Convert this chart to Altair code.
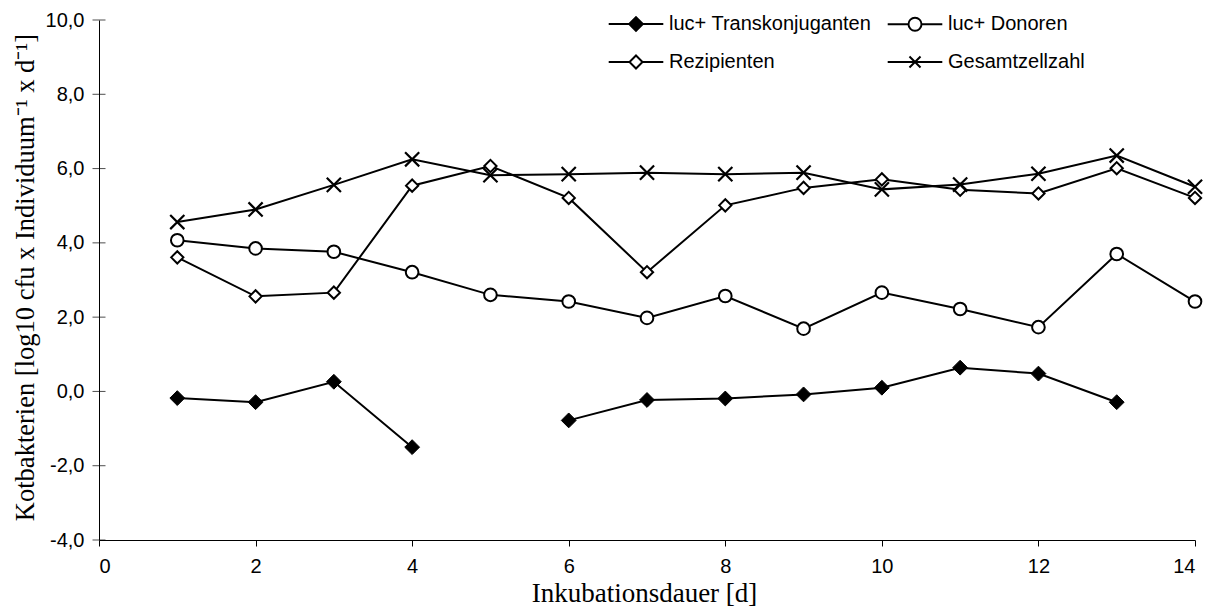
import altair as alt
import pandas as pd

# ---- data ----
days = list(range(1, 15))
transkonjuganten = [-0.18, -0.29, 0.26, -1.50, None, -0.78, -0.23, -0.19, -0.08, 0.10, 0.64, 0.48, -0.29, None]
donoren = [4.07, 3.85, 3.76, 3.21, 2.60, 2.42, 1.98, 2.57, 1.69, 2.66, 2.22, 1.73, 3.70, 2.42]
rezipienten = [3.61, 2.56, 2.66, 5.54, 6.07, 5.21, 3.21, 5.01, 5.48, 5.71, 5.43, 5.33, 6.01, 5.21]
gesamtzellzahl = [4.56, 4.90, 5.56, 6.25, 5.82, 5.85, 5.89, 5.85, 5.89, 5.44, 5.57, 5.86, 6.35, 5.51]

series_names = ["luc+ Transkonjuganten", "luc+ Donoren", "Rezipienten", "Gesamtzellzahl"]
x_ticks = [0, 2, 4, 6, 8, 10, 12, 14]
y_ticks = [-4, -2, 0, 2, 4, 6, 8, 10]

rows = []
for name, vals in zip(series_names, [transkonjuganten, donoren, rezipienten, gesamtzellzahl]):
    seg = 0
    for d, v in zip(days, vals):
        if v is None:
            seg += 1
            continue
        rows.append({"day": d, "value": v, "series": name, "segment": f"{name}-{seg}"})
df = pd.DataFrame(rows)

SANS = "Liberation Sans"
SERIF = "Liberation Serif"

x_scale = alt.Scale(domain=[0, 14], nice=False, zero=False)
y_scale = alt.Scale(domain=[-4, 10], nice=False, zero=False)

x_axis = alt.Axis(
    values=x_ticks, format="d", title="Inkubationsdauer [d]", grid=False,
    ticks=True, tickSize=6, tickColor="black", tickWidth=1,
    domainColor="black", domainWidth=1,
    labelFont=SANS, labelFontSize=20, labelColor="black", labelPadding=10,
    titleFont=SERIF, titleFontSize=27, titleFontWeight="normal", titleColor="black",
    titleX=545, titleY=61, titleBaseline="alphabetic", titleAlign="center",
)
y_axis = alt.Axis(
    values=y_ticks, title="Kotbakterien [log10 cfu x Individuum⁻¹ x d⁻¹]", grid=False,
    ticks=False, tickSize=0, domainColor="black", domainWidth=1,
    labelFont=SANS, labelFontSize=20, labelColor="black", labelPadding=15,
    labelExpr="(datum.value < 0 ? '-' : '') + replace(format(abs(datum.value), '.1f'), '.', ',')",
    titleFont=SERIF, titleFontSize=26.5, titleFontWeight="normal", titleColor="black",
    titleX=-74, titleY=257, titleBaseline="middle", titleAlign="center", titleAngle=270,
)

x_enc = alt.X("day:Q", scale=x_scale, axis=x_axis)
y_enc = alt.Y("value:Q", scale=y_scale, axis=y_axis)

lines = alt.Chart(df).mark_line(color="black", strokeWidth=2).encode(
    x=x_enc, y=y_enc, detail="segment:N"
)

marker_styles = [
    dict(shape="diamond", fill="black", size=220, strokeWidth=1, filled=True),
    dict(shape="circle", fill="white", size=160, strokeWidth=2, filled=True),
    dict(shape="diamond", fill="white", size=150, strokeWidth=2, filled=True),
    dict(shape="M-1,-1L1,1M-1,1L1,-1", fill="transparent", size=200, strokeWidth=2.2, filled=False),
]

point_layers = []
for name, st in zip(series_names, marker_styles):
    pl = alt.Chart(df).transform_filter(alt.datum.series == name).mark_point(
        shape=st["shape"], fill=st["fill"], stroke="black", strokeWidth=st["strokeWidth"],
        size=st["size"], filled=st["filled"], opacity=1
    ).encode(x=x_enc, y=y_enc)
    point_layers.append(pl)

# y-axis cross ticks
ytick_df = pd.DataFrame({"value": y_ticks})
yticks = alt.Chart(ytick_df).mark_tick(
    orient="horizontal", size=13, thickness=1, color="black"
).encode(x=alt.datum(0), y=y_enc)

# legend (line + marker symbols)
legend_paths = [
    "M-4.2,0H-1M1,0H4.2M0,-1.05L1.05,0L0,1.05L-1.05,0Z",
    "M-4.2,0H-1M1,0H4.2M-1,0A1,1 0 1,0 1,0A1,1 0 1,0 -1,0Z",
    "M-4.2,0H-1M1,0H4.2M0,-1L1,0L0,1L-1,0Z",
    "M-4.2,0H4.2M-0.85,-0.85L0.85,0.85M-0.85,0.85L0.85,-0.85",
]
legend_fills = ["black", "white", "white", "white"]
legend_strokes = ["black", "black", "black", "black"]
legend_def = alt.Legend(
    title=None, orient="none", legendX=527, legendY=-6, columns=2, direction="horizontal",
    columnPadding=11, rowPadding=16, padding=0, labelLimit=400,
    labelFont=SANS, labelFontSize=20, labelColor="black", labelOffset=23,
    symbolSize=169, symbolStrokeWidth=2,
)
legend_layer = alt.Chart(pd.DataFrame({"series": series_names})).transform_filter("false").mark_point(
    filled=True, strokeWidth=2, opacity=1
).encode(
    shape=alt.Shape("series:N", scale=alt.Scale(domain=series_names, range=legend_paths), legend=legend_def),
    fill=alt.Fill("series:N", scale=alt.Scale(domain=series_names, range=legend_fills), legend=legend_def),
    stroke=alt.Stroke("series:N", scale=alt.Scale(domain=series_names, range=legend_strokes), legend=legend_def),
)

chart = alt.layer(lines, *point_layers, yticks, legend_layer).properties(
    width=1096, height=520,
    padding={"left": 91, "top": 12, "right": 14, "bottom": 67},
    autosize=alt.AutoSizeParams(type="none"),
    background="white",
).configure_view(stroke=None)

chart.save("out.html", embed_options={"renderer": "svg", "actions": False})
